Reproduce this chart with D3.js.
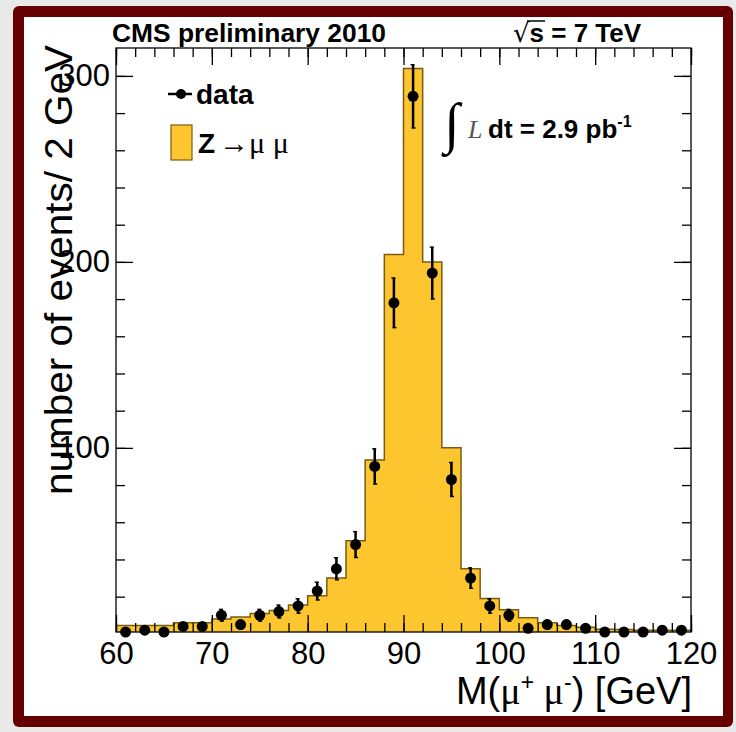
<!DOCTYPE html>
<html>
<head>
<meta charset="utf-8">
<script src="https://cdn.jsdelivr.net/npm/d3@7"></script>
<style>
  html, body { margin: 0; padding: 0; background: #e9e9e9; }
  svg { display: block; }
</style>
</head>
<body>
<svg id="chart" width="736" height="732"></svg>
<script>
// ---- data ----
const binLow = [60,62,64,66,68,70,72,74,76,78,80,82,84,86,88,90,92,94,96,98,100,102,104,106,108,110,112,114,116,118];
const binWidth = 2;
const mcValues = [4.5,4.5,4.5,6,6,8,9,11,12.5,15.5,20.5,30,50,93.5,204,304,200,100,35,19,13,8.6,6,4.5,3.6,2.5,2.3,2,2,2];
const dataValues = [1,2,1,4,4,10,5,10,12,15,23,35,48,90,178,289,194,83,30,15,10,3,5,5,3,1,1,1,2,2];
const xTickLabels = [60,70,80,90,100,110,120];
const yTickLabels = [100,200,300];

const svg = d3.select("#chart");
const W = 736, H = 732;

// background + frame
svg.append("rect").attr("x",0).attr("y",0).attr("width",W).attr("height",H).attr("fill","#e9e9e9");
svg.append("rect").attr("x",13).attr("y",6).attr("width",720).attr("height",721).attr("rx",6).attr("fill","#660000");
svg.append("rect").attr("x",24).attr("y",17).attr("width",699).attr("height",699).attr("fill","#ffffff");

const pLeft = 116, pRight = 691, pTop = 48, pBottom = 632;
const x = d3.scaleLinear().domain([60,120]).range([pLeft,pRight]);
const y = d3.scaleLinear().domain([1,315]).range([pBottom,pTop]);

// histogram
const stepPts = binLow.map((b,i)=>({x:b, v:mcValues[i]}));
stepPts.push({x: binLow[binLow.length-1]+binWidth, v: mcValues[mcValues.length-1]});
const area = d3.area().curve(d3.curveStepAfter).x(d=>x(d.x)).y0(y(1)).y1(d=>y(d.v));
svg.append("path").datum(stepPts).attr("d",area).attr("fill","#fdc62e").attr("stroke","none");
const line = d3.line().curve(d3.curveStepAfter).x(d=>x(d.x)).y(d=>y(d.v));
svg.append("path").datum(stepPts).attr("d",line).attr("fill","none").attr("stroke","#7a5c10").attr("stroke-width",1.5);

// axes
const fontSans = "'Liberation Sans', Arial, Helvetica, sans-serif";
const fontSerif = "'Liberation Serif', 'Times New Roman', serif";
function styleAxis(g){
  g.select(".domain").remove();
  g.selectAll(".tick line").attr("stroke","#000").attr("stroke-width",1.3);
  g.selectAll("text").attr("fill","#000").style("font-family",fontSans).style("font-size","31px");
}
const minorX = d3.range(60,121,2);
const minorY = d3.range(20,315,20);
// bottom
svg.append("g").attr("transform",`translate(0,${pBottom})`)
  .call(d3.axisBottom(x).tickValues(minorX).tickSize(-9).tickFormat("")).call(styleAxis);
svg.append("g").attr("transform",`translate(0,${pBottom})`)
  .call(d3.axisBottom(x).tickValues(xTickLabels).tickSize(-17).tickPadding(10).tickFormat(d3.format("d"))).call(styleAxis);
// top
svg.append("g").attr("transform",`translate(0,${pTop})`)
  .call(d3.axisTop(x).tickValues(minorX).tickSize(-9).tickFormat("")).call(styleAxis);
svg.append("g").attr("transform",`translate(0,${pTop})`)
  .call(d3.axisTop(x).tickValues(xTickLabels).tickSize(-17).tickFormat("")).call(styleAxis);
// left
svg.append("g").attr("transform",`translate(${pLeft},0)`)
  .call(d3.axisLeft(y).tickValues(minorY).tickSize(-9).tickFormat("")).call(styleAxis);
svg.append("g").attr("transform",`translate(${pLeft},0)`)
  .call(d3.axisLeft(y).tickValues(yTickLabels).tickSize(-17).tickPadding(6).tickFormat(d3.format("d"))).call(styleAxis);
// right
svg.append("g").attr("transform",`translate(${pRight},0)`)
  .call(d3.axisRight(y).tickValues(minorY).tickSize(-9).tickFormat("")).call(styleAxis);
svg.append("g").attr("transform",`translate(${pRight},0)`)
  .call(d3.axisRight(y).tickValues(yTickLabels).tickSize(-17).tickFormat("")).call(styleAxis);

// frame
svg.append("rect").attr("x",pLeft).attr("y",pTop).attr("width",pRight-pLeft).attr("height",pBottom-pTop)
  .attr("fill","none").attr("stroke","#000").attr("stroke-width",1.3);

// data points with error bars
const pts = binLow.map((b,i)=>({c:b+binWidth/2, v:dataValues[i], e:Math.sqrt(dataValues[i])}));
const gp = svg.append("g");
gp.selectAll("line.err").data(pts).join("line").attr("class","err")
  .attr("x1",d=>x(d.c)).attr("x2",d=>x(d.c))
  .attr("y1",d=>y(d.v+d.e)).attr("y2",d=>y(d.v-d.e))
  .attr("stroke","#000").attr("stroke-width",2.5);
gp.selectAll("line.capt").data(pts).join("line").attr("class","capt")
  .attr("x1",d=>x(d.c)-2.5).attr("x2",d=>x(d.c)+1.5)
  .attr("y1",d=>y(d.v+d.e)).attr("y2",d=>y(d.v+d.e))
  .attr("stroke","#000").attr("stroke-width",1.5);
gp.selectAll("line.capb").data(pts).join("line").attr("class","capb")
  .attr("x1",d=>x(d.c)-1.5).attr("x2",d=>x(d.c)+2.5)
  .attr("y1",d=>y(d.v-d.e)).attr("y2",d=>y(d.v-d.e))
  .attr("stroke","#000").attr("stroke-width",1.5);
gp.selectAll("circle").data(pts).join("circle")
  .attr("cx",d=>x(d.c)).attr("cy",d=>y(d.v)).attr("r",5.5).attr("fill","#000");

// titles
svg.append("text").attr("x",112).attr("y",42).style("font-family",fontSans).style("font-weight","bold")
  .style("font-size","25px").attr("textLength",274).attr("lengthAdjust","spacingAndGlyphs").text("CMS preliminary 2010");
// sqrt s
const sq = svg.append("text").attr("x",513).attr("y",42).style("font-family",fontSans).style("font-size","26px").style("font-weight","bold");
sq.append("tspan").style("font-weight","normal").style("font-family","'DejaVu Sans', sans-serif").text("√");
sq.append("tspan").text("s = 7 TeV");
svg.append("line").attr("x1",527).attr("x2",545).attr("y1",21).attr("y2",21).attr("stroke","#000").attr("stroke-width",1.5);

// y label
svg.append("text").attr("transform","translate(72,270) rotate(-90)").attr("text-anchor","middle")
  .style("font-family",fontSans).style("font-size","39px").attr("textLength",450).attr("lengthAdjust","spacingAndGlyphs")
  .text("number of events/ 2 GeV");

// x label
const xl = svg.append("text").attr("x",692).attr("y",704).attr("text-anchor","end")
  .style("font-family",fontSans).style("font-size","38px");
xl.append("tspan").text("M(");
xl.append("tspan").style("font-family",fontSerif).text("μ");
xl.append("tspan").attr("dy",-14).style("font-size","23px").text("+");
xl.append("tspan").attr("dy",14).style("font-family",fontSerif).text(" μ");
xl.append("tspan").attr("dy",-14).style("font-size","23px").text("-");
xl.append("tspan").attr("dy",14).text(") [GeV]");

// legend
svg.append("line").attr("x1",168).attr("x2",192).attr("y1",94).attr("y2",94).attr("stroke","#000").attr("stroke-width",2.5);
svg.append("circle").attr("cx",181).attr("cy",94).attr("r",5).attr("fill","#000");
svg.append("text").attr("x",196).attr("y",104).style("font-family",fontSans).style("font-weight","bold").style("font-size","28px").text("data");
svg.append("rect").attr("x",171).attr("y",125).attr("width",21).attr("height",35).attr("fill","#fdc62e").attr("stroke","#7a5c10").attr("stroke-width",1.2);
const zt = svg.append("text").attr("x",198).attr("y",153).style("font-size","28px");
zt.append("tspan").style("font-family",fontSans).style("font-weight","bold").text("Z");
zt.append("tspan").attr("dx",4).style("font-family",fontSerif).style("font-size","30px").text("→μ μ");

// luminosity
svg.append("text").attr("x",444).attr("y",142).style("font-family",fontSerif).style("font-size","56px").text("∫");
svg.append("text").attr("x",468).attr("y",138).style("font-family",fontSerif).style("font-style","italic").style("font-size","26px").attr("fill","#555").text("L");
const lt = svg.append("text").attr("x",488).attr("y",138).style("font-family",fontSans).style("font-weight","bold").style("font-size","26px");
lt.append("tspan").text("dt = 2.9 pb");
lt.append("tspan").attr("dy",-11).style("font-size","16px").text("-1");
</script>
</body>
</html>
